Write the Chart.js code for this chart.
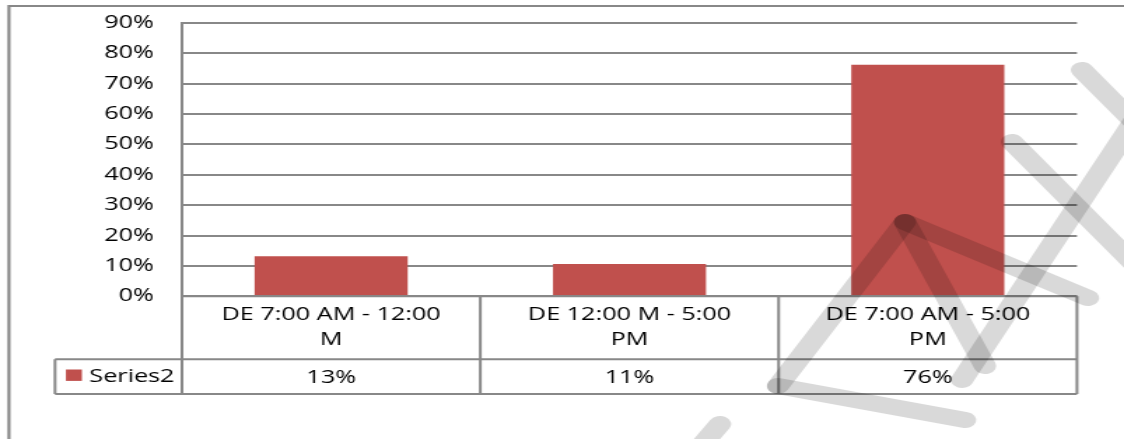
<!DOCTYPE html>
<html>
<head>
<meta charset="utf-8">
<script src="https://cdn.jsdelivr.net/npm/chart.js@4.4.1/dist/chart.umd.min.js"></script>
<style>
  html, body { margin: 0; padding: 0; background: #fff; overflow: hidden; }
  /* the source picture is stretched sideways, so the chart is drawn narrow and widened */
  #wrap { width: 803px; height: 439px; transform: scaleX(1.39975); transform-origin: 0 0; }
</style>
</head>
<body>
<div id="wrap"><canvas id="myChart" width="803" height="439"></canvas></div>
<script>
const categories = [
  ["DE 7:00 AM - 12:00", "M"],
  ["DE 12:00 M - 5:00", "PM"],
  ["DE 7:00 AM - 5:00", "PM"]
];
const seriesName = "Series2";
const values = [0.132, 0.106, 0.762];
const yMax = 0.9;
const yStep = 0.1;

const barColor = "#c0504d";
const lineColor = "#888888";
const textFont = '18px "Open Sans"';

const pct = v => Math.round(v * 100) + "%";

// grey watermark strokes, in page pixels
const watermark = [
  [1082, 70, 1140, 128],
  [1012, 142, 1140, 270],
  [1140, 112, 962, 380],
  [905, 222, 1088, 298],
  [905, 222, 778, 386],
  [905, 222, 985, 366],
  [778, 386, 965, 420],
  [720, 424, 680, 470]
];
const S = 1124 / 803;

const dataTable = {
  id: "dataTable",
  beforeDraw(chart) {
    const ctx = chart.ctx;
    ctx.save();
    ctx.fillStyle = "#fff";
    ctx.fillRect(0, 0, chart.width, chart.height);
    // outer frame
    ctx.strokeStyle = lineColor;
    ctx.lineWidth = 2.2;
    ctx.beginPath();
    ctx.moveTo(6.4, 500);
    ctx.lineTo(6.4, 6);
    ctx.lineTo(900, 6);
    ctx.stroke();
    ctx.restore();
  },
  afterDraw(chart) {
    const ctx = chart.ctx;
    const area = chart.chartArea;
    const x = chart.scales.x;
    const half = (area.right - area.left) / categories.length / 2;
    const row1 = 359.3, row2 = 394;
    const legLeft = 39.3;

    ctx.save();
    ctx.strokeStyle = lineColor;
    ctx.lineWidth = 2;
    ctx.beginPath();
    ctx.moveTo(area.left, area.bottom);
    ctx.lineTo(area.right, area.bottom);
    ctx.moveTo(legLeft, row1);
    ctx.lineTo(area.right, row1);
    ctx.moveTo(legLeft, row2);
    ctx.lineTo(area.right, row2);
    ctx.moveTo(legLeft, row1);
    ctx.lineTo(legLeft, row2);
    ctx.moveTo(area.left, area.bottom);
    ctx.lineTo(area.left, row2);
    categories.forEach((c, i) => {
      const r = x.getPixelForValue(i) + half;
      ctx.moveTo(r, area.bottom);
      ctx.lineTo(r, row2);
    });
    ctx.stroke();

    ctx.fillStyle = "#000";
    ctx.font = textFont;
    ctx.textAlign = "center";
    ctx.textBaseline = "middle";
    categories.forEach((c, i) => {
      const cx = x.getPixelForValue(i);
      ctx.fillText(c[0], cx, 315);
      ctx.fillText(c[1], cx, 340);
      ctx.fillText(pct(values[i]), cx, 377.5);
    });

    // legend key
    ctx.fillStyle = barColor;
    ctx.fillRect(47.1, 369.5, 11.4, 11.4);
    ctx.fillStyle = "#000";
    ctx.textAlign = "left";
    ctx.fillText(seriesName, 63.8, 377);

    // watermark
    ctx.strokeStyle = "rgba(0,0,0,0.15)";
    ctx.lineWidth = 16;
    ctx.lineCap = "round";
    watermark.forEach(w => {
      ctx.beginPath();
      ctx.moveTo(w[0] / S, w[1]);
      ctx.lineTo(w[2] / S, w[3]);
      ctx.stroke();
    });
    ctx.restore();
  }
};

new Chart("myChart", {
  type: "bar",
  data: {
    labels: categories,
    datasets: [{
      label: seriesName,
      data: values,
      backgroundColor: barColor,
      borderWidth: 0,
      barPercentage: 0.513,
      categoryPercentage: 1
    }]
  },
  options: {
    responsive: false,
    animation: false,
    devicePixelRatio: 1,
    layout: { padding: { left: 0, right: 33.6, top: 22.7, bottom: 142.7 } },
    plugins: {
      legend: { display: false },
      tooltip: { enabled: false }
    },
    scales: {
      x: { display: false, offset: true },
      y: {
        min: 0,
        max: yMax,
        afterFit: s => { s.width = 130; },
        ticks: {
          stepSize: yStep,
          callback: v => pct(v),
          color: "#000",
          font: { family: "Open Sans", size: 18 },
          padding: 0
        },
        grid: { color: lineColor, lineWidth: 2, drawTicks: true, tickLength: 20, tickColor: "rgba(0,0,0,0)" },
        border: { color: lineColor, width: 2 }
      }
    }
  },
  plugins: [dataTable]
});
</script>
</body>
</html>
